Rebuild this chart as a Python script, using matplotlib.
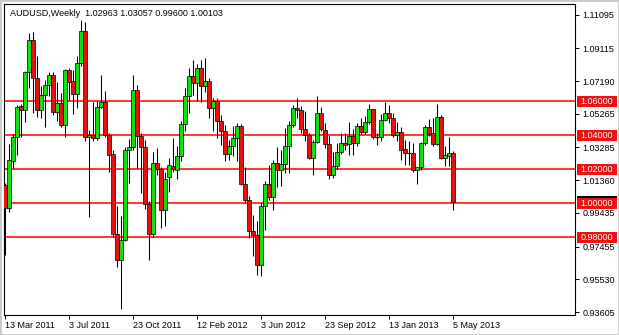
import matplotlib
matplotlib.use("Agg")
import matplotlib.pyplot as plt
from matplotlib.patches import Rectangle
import pandas as pd

plt.rcParams['font.family'] = ['Liberation Sans', 'DejaVu Sans']

# weekly AUDUSD bars, 13 Mar 2011 .. 5 May 2013
opens = [1.0110, 0.9973, 1.0249, 1.0390, 1.0572, 1.0549, 1.0772, 1.0961, 1.0737, 1.0549,
         1.0637, 1.0696, 1.0755, 1.0537, 1.0590, 1.0461, 1.0784, 1.0719, 1.0643, 1.0825,
         1.1014, 1.0390, 1.0402, 1.0384, 1.0566, 1.0596, 1.0402, 1.0290, 0.9820, 0.9667,
         0.9784, 1.0314, 1.0331, 1.0666, 1.0396, 1.0331, 0.9996, 0.9820, 1.0237, 1.0202,
         0.9961, 1.0155, 1.0219, 1.0196, 1.0278, 1.0466, 1.0631, 1.0749, 1.0708, 1.0796,
         1.0690, 1.0719, 1.0561, 1.0602, 1.0484, 1.0425, 1.0290, 1.0337, 1.0384, 1.0455,
         1.0114, 1.0020, 0.9837, 0.9814, 0.9637, 0.9984, 1.0114, 1.0037, 1.0237, 1.0196,
         1.0231, 1.0337, 1.0461, 1.0561, 1.0549, 1.0437, 1.0402, 1.0267, 1.0361, 1.0531,
         1.0431, 1.0349, 1.0166, 1.0219, 1.0302, 1.0355, 1.0349, 1.0396, 1.0355, 1.0455,
         1.0419, 1.0478, 1.0555, 1.0390, 1.0390, 1.0490, 1.0531, 1.0502, 1.0402, 1.0419,
         1.0320, 1.0296, 1.0296, 1.0196, 1.0214, 1.0355, 1.0449, 1.0413, 1.0349, 1.0508,
         1.0267, 1.0278, 1.02963]
highs = [1.0120, 1.0349, 1.0408, 1.0578, 1.0584, 1.0778, 1.1002, 1.1008, 1.0867, 1.0690,
         1.0725, 1.0772, 1.0772, 1.0714, 1.0649, 1.0790, 1.0796, 1.0784, 1.0867, 1.1078,
         1.1067, 1.0431, 1.0596, 1.0602, 1.0755, 1.0661, 1.0413, 1.0314, 0.9984, 0.9925,
         1.0331, 1.0378, 1.0755, 1.0696, 1.0413, 1.0372, 1.0014, 1.0302, 1.0325, 1.0214,
         1.0184, 1.0267, 1.0384, 1.0337, 1.0484, 1.0678, 1.0796, 1.0843, 1.0819, 1.0843,
         1.0855, 1.0737, 1.0619, 1.0619, 1.0519, 1.0461, 1.0372, 1.0455, 1.0472, 1.0466,
         1.0214, 1.0043, 0.9931, 0.9896, 1.0008, 1.0131, 1.0225, 1.0255, 1.0331, 1.0314,
         1.0443, 1.0484, 1.0578, 1.0619, 1.0572, 1.0543, 1.0413, 1.0372, 1.0631, 1.0566,
         1.0472, 1.0396, 1.0302, 1.0355, 1.0413, 1.0413, 1.0478, 1.0437, 1.0472, 1.0502,
         1.0514, 1.0584, 1.0555, 1.0413, 1.0525, 1.0596, 1.0578, 1.0531, 1.0478, 1.0449,
         1.0372, 1.0366, 1.0355, 1.0214, 1.0361, 1.0461, 1.0496, 1.0502, 1.0584, 1.0519,
         1.0337, 1.0390, 1.03057]
lows = [0.9698, 0.9949, 1.0208, 1.0284, 1.0390, 1.0478, 1.0678, 1.0531, 1.0508, 1.0502,
        1.0449, 1.0631, 1.0519, 1.0484, 1.0449, 1.0390, 1.0608, 1.0525, 1.0561, 1.0808,
        1.0366, 0.9920, 1.0366, 1.0372, 1.0561, 1.0390, 1.0184, 0.9802, 0.9625, 0.9378,
        0.9778, 1.0120, 1.0314, 1.0208, 1.0061, 0.9967, 0.9667, 0.9802, 1.0166, 0.9855,
        0.9867, 1.0067, 1.0184, 1.0143, 1.0249, 1.0425, 1.0531, 1.0637, 1.0602, 1.0596,
        1.0655, 1.0502, 1.0425, 1.0384, 1.0343, 1.0249, 1.0255, 1.0278, 1.0249, 1.0108,
        1.0002, 0.9796, 0.9690, 0.9578, 0.9572, 0.9843, 1.0020, 0.9961, 1.0096, 1.0102,
        1.0178, 1.0178, 1.0449, 1.0502, 1.0413, 1.0366, 1.0261, 1.0166, 1.0355, 1.0425,
        1.0325, 1.0143, 1.0149, 1.0202, 1.0290, 1.0314, 1.0284, 1.0284, 1.0337, 1.0408,
        1.0408, 1.0466, 1.0378, 1.0343, 1.0366, 1.0484, 1.0472, 1.0390, 1.0366, 1.0255,
        1.0225, 1.0225, 1.0184, 1.0114, 1.0196, 1.0343, 1.0396, 1.0337, 1.0343, 1.0261,
        1.0219, 1.0219, 0.99600]
closes = [0.9973, 1.0255, 1.0390, 1.0566, 1.0546, 1.0772, 1.0961, 1.0737, 1.0549, 1.0637,
          1.0696, 1.0755, 1.0537, 1.0590, 1.0461, 1.0784, 1.0714, 1.0643, 1.0825, 1.1014,
          1.0390, 1.0402, 1.0384, 1.0566, 1.0596, 1.0402, 1.0284, 0.9820, 0.9667, 0.9784,
          1.0314, 1.0331, 1.0666, 1.0396, 1.0331, 0.9996, 0.9820, 1.0237, 1.0202, 0.9961,
          1.0143, 1.0225, 1.0202, 1.0278, 1.0466, 1.0631, 1.0749, 1.0708, 1.0796, 1.0690,
          1.0719, 1.0561, 1.0602, 1.0484, 1.0425, 1.0290, 1.0337, 1.0384, 1.0455, 1.0114,
          1.0020, 0.9837, 0.9814, 0.9637, 0.9984, 1.0114, 1.0037, 1.0237, 1.0196, 1.0231,
          1.0337, 1.0461, 1.0561, 1.0549, 1.0437, 1.0402, 1.0267, 1.0361, 1.0531, 1.0437,
          1.0349, 1.0166, 1.0219, 1.0302, 1.0355, 1.0343, 1.0396, 1.0355, 1.0455, 1.0419,
          1.0478, 1.0555, 1.0390, 1.0387, 1.0490, 1.0531, 1.0502, 1.0402, 1.0419, 1.0314,
          1.0296, 1.0293, 1.0196, 1.0214, 1.0355, 1.0449, 1.0408, 1.0349, 1.0508, 1.0267,
          1.0284, 1.0296, 1.00103]

price_ticks = [1.11095, 1.09115, 1.07190, 1.05265, 1.03285, 1.01360,
               0.99435, 0.97455, 0.95530, 0.93605]
levels = [1.06, 1.04, 1.02, 1.00, 0.98]
date_ticks = ["13 Mar 2011", "3 Jul 2011", "23 Oct 2011", "12 Feb 2012",
              "3 Jun 2012", "23 Sep 2012", "13 Jan 2013", "5 May 2013"]
title = "AUDUSD,Weekly  1.02963 1.03057 0.99600 1.00103"

weeks = pd.date_range("2011-03-13", periods=len(opens), freq="W-SUN")
x = list(range(len(opens)))

W, H = 619, 335
fig = plt.figure(figsize=(W / 100, H / 100), dpi=100)
fig.patch.set_facecolor("white")
ax = fig.add_axes([4 / W, 20 / H, 571 / W, 311 / H])
ax.set_xlim(-0.25, 142.5)
ax.set_ylim(0.93430, 1.11724)

# support / resistance lines
for lv in levels:
    ax.axhline(lv, color="#ff0000", lw=1.1, zorder=1)

# candles
ax.vlines(x, lows, highs, color="black", lw=0.75, zorder=2)
for i in x:
    o, c = opens[i], closes[i]
    if abs(c - o) < 0.0004:
        ax.hlines((o + c) / 2, i - 0.4, i + 0.4, color="black", lw=0.8, zorder=3)
        continue
    col = "#10e010" if c > o else "#e81010"
    ax.add_patch(Rectangle((i - 0.4, min(o, c)), 0.8, abs(c - o),
                           facecolor=col, edgecolor="black", lw=0.5, zorder=3))

for s in ax.spines.values():
    s.set_linewidth(0.8)

ax.yaxis.tick_right()
ax.set_yticks(price_ticks)
ax.set_yticklabels(["%.5f" % p for p in price_ticks])
ax.tick_params(axis="y", direction="out", length=3, width=0.7, pad=2.5, labelsize=6.5)

tick_pos = [weeks.get_loc(pd.Timestamp(d)) for d in date_ticks]
ax.set_xticks(tick_pos)
ax.set_xticklabels(date_ticks)
ax.tick_params(axis="x", direction="out", length=3, width=0.7, pad=1.5, labelsize=6.5)
for lab in ax.get_xticklabels():
    lab.set_horizontalalignment("left")

# price labels on the right axis
tr = ax.get_yaxis_transform()
bw = 40 / 571
bh = 11 / 1700
ax.add_patch(Rectangle((1 + 1.5 / 571, closes[-1] - 12 / 1700 / 2), bw, 12 / 1700,
                       transform=tr, facecolor="black", edgecolor="none",
                       clip_on=False, zorder=4))
for lv in levels:
    ax.add_patch(Rectangle((1 + 1.5 / 571, lv - bh / 2), bw, bh, transform=tr,
                           facecolor="#f01010", edgecolor="none", clip_on=False, zorder=5))
    ax.text(1 + 21.5 / 571, lv, "%.5f" % lv, transform=tr, ha="center", va="center",
            color="white", fontsize=6.5, clip_on=False, zorder=6)

fig.text(10 / W, 1 - 13 / H, title, ha="left", va="center", fontsize=6.5)
fig.patches.append(Rectangle((0, 0), 1, 1, transform=fig.transFigure, fill=False,
                             edgecolor="#c8c8c8", lw=2))

fig.savefig("out.png", dpi=100)
